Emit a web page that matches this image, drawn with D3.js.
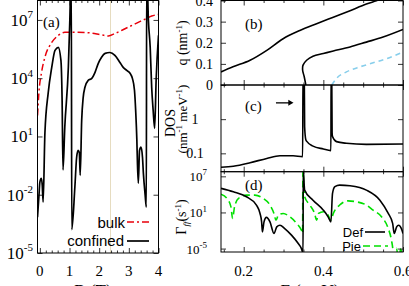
<!DOCTYPE html>
<html>
<head>
<meta charset="utf-8">
<script src="https://cdn.jsdelivr.net/npm/d3@7"></script>
<style>
body { margin: 0; background: #fff; }
svg { display: block; }
</style>
</head>
<body>
<div id="chart"></div>
<script>
// (a) rate vs B
const bulkB = [-0.078, -0.034, 0.057, 0.17, 0.40, 0.62, 0.84, 1.18, 1.63, 2.08, 2.31, 2.53, 2.87, 3.21, 3.55, 3.77, 4.0];
const bulkRate = [1.2e2, 1.7e3, 2.0e4, 1.2e5, 6.9e5, 1.6e6, 2.3e6, 2.3e6, 2.2e6, 1.7e6, 1.5e6, 2.0e6, 3.5e6, 6.3e6, 1.1e7, 1.6e7, 1.9e7];

const confB = [-0.08, -0.03, 0.0, 0.05, 0.08, 0.11, 0.17, 0.28, 0.40, 0.51, 0.62, 0.71, 0.75, 0.78, 0.84, 0.96, 1.01, 1.045, 1.06, 1.075,
  1.18, 1.24, 1.29, 1.33, 1.36, 1.41, 1.46, 1.52, 1.63, 1.75, 1.86, 1.97, 2.08, 2.20, 2.36, 2.53, 2.70, 2.81, 2.93, 3.04,
  3.12, 3.19, 3.23, 3.27, 3.29, 3.32, 3.36, 3.41, 3.46, 3.49, 3.55, 3.59, 3.60, 3.615, 3.66, 3.72, 3.77, 3.82, 3.87, 3.92, 4.0];
const confRate = [7e-4, 9.5e-3, 4.5e-2, 7e-2, 3.1e-2, 4.2e-3, 1.5e1, 1.7e3, 3.6e4, 2.7e5, 3.9e5, 8.3e4, 7.2e2, 1.9e-1, 3.0e1, 3.6e4, 9.3e6, 1e9, 1e9, 1.6e-4,
  2.5e-2, 8.5e-1, 1.9, 1.5, 1.0e-1, 6.8e1, 1.0e3, 3.4e3, 7.8e3, 9.8e3, 2.0e4, 5.8e4, 1.2e5, 1.9e5, 2.1e5, 1.5e5, 6.5e4, 3.6e4, 2.5e4, 1.8e4,
  9.8e3, 2.4e3, 2.2e2, 6.5, 4.2e-1, 4.0e-2, 1.9, 2.8, 8.5e-1, 1.3e-1, 9.5e-3, 2.3e-3, 1e9, 1e9, 9.3e6, 3.9e5, 3.4e3, 2.2e2, 2.6e1, 7.8e3, 1.6e6];
const markedB = 2.37;

// (b) q vs E
const qE1 = [0.143, 0.173, 0.216, 0.258, 0.299, 0.341, 0.383, 0.425, 0.467, 0.508, 0.533, 0.6];
const q1 = [0.062, 0.086, 0.117, 0.164, 0.219, 0.258, 0.290, 0.321, 0.352, 0.383, 0.399, 0.446];
const qE2 = [0.356, 0.352, 0.348, 0.349, 0.358, 0.374, 0.400, 0.425, 0.467, 0.508, 0.550, 0.600];
const q2 = [0, 0.039, 0.070, 0.094, 0.117, 0.136, 0.149, 0.161, 0.180, 0.203, 0.227, 0.263];
const qE3 = [0.421, 0.433, 0.458, 0.492, 0.525, 0.559, 0.600];
const q3 = [0, 0.031, 0.062, 0.086, 0.105, 0.125, 0.156];

// (c) DOS vs E
const dosE = [0.143, 0.174, 0.216, 0.258, 0.291, 0.324, 0.348, 0.349, 0.352, 0.353, 0.356, 0.359, 0.374, 0.400, 0.419, 0.4195, 0.421, 0.422, 0.423, 0.433, 0.458, 0.508, 0.600];
const dos = [0.039, 0.042, 0.053, 0.071, 0.085, 0.085, 0.080, 30, 30, 0.60, 0.25, 0.22, 0.163, 0.134, 0.12, 30, 30, 0.4, 0.31, 0.22, 0.197, 0.183, 0.187];

// (d) rates vs E
const defE = [0.143, 0.174, 0.207, 0.232, 0.241, 0.245, 0.247, 0.251, 0.257, 0.266, 0.276, 0.283, 0.291, 0.303, 0.320, 0.337, 0.345, 0.349, 0.3495,
  0.353, 0.374, 0.400, 0.412, 0.419, 0.423, 0.429, 0.441, 0.467, 0.508, 0.542, 0.563, 0.574, 0.578, 0.584, 0.589, 0.596, 0.600];
const defRate = [1e5, 2.7e4, 4e3, 1.7e2, 6.8, 2.7e-1, 5.9e-3, 2.7e-1, 1.5, 2.7e-1, 3.2e-3, 4e-2, 7.6e-2, 2.1e-2, 1.7e-3, 6.8e-5, 1e-5, 1.9e-6, 1e8,
  5.2e4, 1.1e3, 2.4e1, 1.9, 2.7e-1, 1.5e4, 1.9e5, 3.5e5, 2.7e5, 5.2e4, 1.1e3, 6.8, 1.5e-1, 3.2e-3, 4e-2, 7.6e-2, 2.1e-2, 3.2e-3];
const pieE = [0.143, 0.158, 0.168, 0.172, 0.177, 0.187, 0.207, 0.228, 0.249, 0.266, 0.276, 0.281, 0.287, 0.299, 0.316, 0.333, 0.345, 0.348, 0.3485,
  0.353, 0.366, 0.378, 0.383, 0.388, 0.400, 0.412, 0.419, 0.425, 0.441, 0.462, 0.483, 0.508, 0.525, 0.546, 0.563, 0.571, 0.575, 0.577, 0.584, 0.589, 0.594, 0.600];
const pieRate = [1.1e4, 2.1e3, 8.5e1, 1, 8.5e1, 2.1e3, 7.6e3, 7.6e3, 2.1e3, 1.7e2, 6.8, 5.2e-1, 3.5, 6.8, 1.9, 1.5e-1, 1.1e-2, 3.5e-3, 1e8,
  4e3, 1.7e2, 6.8, 5.2e-1, 6.8, 1.3e1, 3.5, 5.2e-1, 6.8, 1.7e2, 8.5e2, 5.9e2, 1.7e2, 2.4e1, 1.9, 2.1e-2, 2.4e-4, 2.7e-6, 1e-8, 1.1e-5, 1e-8, 8e-6, 1e-8];

const width = 409, height = 286;
const serif = '"Liberation Serif", "DejaVu Serif", serif';
const sans = '"Liberation Sans", Arial, sans-serif';

const svg = d3.select('#chart').append('svg')
  .attr('width', width).attr('height', height)
  .style('font-family', serif);
const defs = svg.append('defs');

const xB = d3.scaleLinear().domain([-0.08, 4.0]).range([37.5, 158.5]);
const yA = d3.scaleLog().domain([1e-5, 1e8]).range([253, 0.5]);
const xE = d3.scaleLinear().domain([0.143, 0.6]).range([221, 403]);
const yQ = d3.scaleLinear().domain([0, 0.4]).range([85, 0.5]);
const yDos = d3.scaleLog().domain([0.029, 10]).range([171.7, 85]);
const yG = d3.scaleLog().domain([Math.pow(10, -5.57), Math.pow(10, 7.77)]).range([252, 171.7]);

function panel(id, x, y) {
  const [x0, x1] = x.range(), [y1, y0] = y.range();
  defs.append('clipPath').attr('id', id).append('rect')
    .attr('x', x0).attr('y', y0).attr('width', x1 - x0).attr('height', y1 - y0);
  return svg.append('g').attr('clip-path', `url(#${id})`);
}

function curve(g, xs, ys, x, y, color, w, dash, c) {
  g.append('path').datum(d3.zip(xs, ys))
    .attr('d', d3.line().x(d => x(d[0])).y(d => y(d[1])).curve(c || d3.curveMonotoneX))
    .attr('fill', 'none').attr('stroke', color).attr('stroke-width', w)
    .attr('stroke-dasharray', dash || null).attr('stroke-linejoin', 'round');
}

function marks(axis, values, size, tx, ty) {
  const g = svg.append('g').attr('transform', `translate(${tx},${ty})`)
    .call(axis.tickValues(values).tickSize(size).tickSizeOuter(0).tickFormat(''));
  g.select('.domain').remove();
  g.selectAll('line').attr('stroke', '#000').attr('stroke-width', 0.8);
}

function box(x, y) {
  const [x0, x1] = x.range(), [y1, y0] = y.range();
  svg.append('rect').attr('x', x0).attr('y', y0).attr('width', x1 - x0).attr('height', y1 - y0)
    .attr('fill', 'none').attr('stroke', '#000').attr('stroke-width', 1);
}

function frameTicks(x, y, xMaj, xMin, yMaj) {
  const [x0, x1] = x.range(), [y1, y0] = y.range();
  marks(d3.axisBottom(x), xMaj, -5, 0, y1);
  marks(d3.axisBottom(x), xMin, -2.5, 0, y1);
  marks(d3.axisTop(x), xMaj, -5, 0, y0);
  marks(d3.axisTop(x), xMin, -2.5, 0, y0);
  marks(d3.axisLeft(y), yMaj, -5, x0, 0);
  marks(d3.axisRight(y), yMaj, -5, x1, 0);
}

function powLabel(x, yy, exp, size, supSize, anchor) {
  const t = svg.append('text').attr('x', x).attr('y', yy)
    .attr('text-anchor', anchor || 'end').attr('font-size', size);
  t.append('tspan').text('10');
  t.append('tspan').attr('dy', -size * 0.45).attr('font-size', supSize).text(exp);
}

// ---------- (a) ----------
const ga = panel('clipA', xB, yA);
const mx = Math.round(xB(markedB)) + 0.5;
ga.append('line')
  .attr('x1', mx).attr('x2', mx)
  .attr('y1', yA.range()[0]).attr('y2', yA.range()[1])
  .attr('stroke', '#e6dcc0').attr('stroke-width', 1);
curve(ga, bulkB, bulkRate, xB, yA, '#e8000b', 1.5, '7,3,2,3');
curve(ga, confB, confRate, xB, yA, '#000', 1.7);

const bMinor = d3.range(-0.0, 4.01, 0.2).map(v => +v.toFixed(2)).filter(v => v % 1 !== 0);
frameTicks(xB, yA, [0, 1, 2, 3, 4], bMinor, [1e-5, 1e-2, 1e1, 1e4, 1e7]);
box(xB, yA);

[[1e-5, '-5'], [1e-2, '-2'], [1e1, '1'], [1e4, '4'], [1e7, '7']].forEach(([v, e]) =>
  powLabel(33, yA(v) + 6, e, 17, 11));
[0, 1, 2, 3, 4].forEach(v => svg.append('text').attr('x', xB(v)).attr('y', 276)
  .attr('text-anchor', 'middle').attr('font-size', 15).text(v));
svg.append('text').attr('x', 93).attr('y', 296).attr('text-anchor', 'middle')
  .attr('font-size', 17).text('B (T)');
svg.append('text').attr('x', 43).attr('y', 27).attr('font-size', 15).text('(a)');

// legend (a)
svg.append('text').attr('x', 125).attr('y', 228).attr('text-anchor', 'end')
  .attr('font-family', sans).attr('font-size', 15).text('bulk');
svg.append('line').attr('x1', 127).attr('x2', 151).attr('y1', 222).attr('y2', 222)
  .attr('stroke', '#e8000b').attr('stroke-width', 1.5).attr('stroke-dasharray', '7,3,2,3');
svg.append('text').attr('x', 124).attr('y', 246).attr('text-anchor', 'end')
  .attr('font-family', sans).attr('font-size', 15).text('confined');
svg.append('line').attr('x1', 127).attr('x2', 149).attr('y1', 241).attr('y2', 241)
  .attr('stroke', '#000').attr('stroke-width', 1.7);

// ---------- right panels ----------
const eMaj = [0.2, 0.4, 0.6];
const eMin = d3.range(0.15, 0.601, 0.05).map(v => +v.toFixed(2)).filter(v => !eMaj.includes(v));

// (b)
const gb = panel('clipB', xE, yQ);
curve(gb, qE1, q1, xE, yQ, '#000', 1.6);
curve(gb, qE2, q2, xE, yQ, '#000', 1.6, null, d3.curveCatmullRom.alpha(0.5));
curve(gb, qE3, q3, xE, yQ, '#87ceeb', 1.6, '5,4');
frameTicks(xE, yQ, eMaj, eMin, [0, 0.1, 0.2, 0.3, 0.4]);
box(xE, yQ);
[[0, '0'], [0.1, '0.1'], [0.2, '0.2'], [0.3, '0.3'], [0.4, '0.4']].forEach(([v, s]) =>
  svg.append('text').attr('x', 213).attr('y', yQ(v) + 5).attr('text-anchor', 'end')
    .attr('font-size', 14).text(s));
svg.append('text').attr('x', 245).attr('y', 29).attr('font-size', 15).text('(b)');
const tq = svg.append('text').attr('transform', 'translate(187,43) rotate(-90)')
  .attr('text-anchor', 'middle').attr('font-size', 14);
tq.append('tspan').text('q (nm');
tq.append('tspan').attr('dy', -5).attr('font-size', 9).text('-1');
tq.append('tspan').attr('dy', 5).text(')');

// (c)
const gc = panel('clipC', xE, yDos);
curve(gc, dosE, dos, xE, yDos, '#000', 1.6);
frameTicks(xE, yDos, eMaj, eMin, [0.1, 1]);
box(xE, yDos);
[[0.1, '0.1'], [1, '1']].forEach(([v, s]) =>
  svg.append('text').attr('x', 195).attr('y', yDos(v) + 5).attr('text-anchor', 'middle')
    .attr('font-size', 14).text(s));
svg.append('text').attr('x', 245).attr('y', 111).attr('font-size', 15).text('(c)');
svg.append('text').attr('transform', 'translate(175,123) rotate(-90)')
  .attr('text-anchor', 'middle').attr('font-size', 14).text('DOS');
const td = svg.append('text').attr('transform', 'translate(187,119) rotate(-90)')
  .attr('text-anchor', 'middle').attr('font-size', 13);
td.append('tspan').text('(nm');
td.append('tspan').attr('dy', -5).attr('font-size', 9).text('-1');
td.append('tspan').attr('dy', 5).text(' meV');
td.append('tspan').attr('dy', -5).attr('font-size', 9).text('-1');
td.append('tspan').attr('dy', 5).text(')');
// arrow
const ay = yDos(3);
svg.append('line').attr('x1', xE(0.281)).attr('x2', xE(0.318)).attr('y1', ay).attr('y2', ay)
  .attr('stroke', '#000').attr('stroke-width', 1.3);
svg.append('path')
  .attr('d', `M${xE(0.325)},${ay}L${xE(0.312)},${ay - 3}L${xE(0.312)},${ay + 3}Z`)
  .attr('fill', '#000');

// (d)
const gd = panel('clipD', xE, yG);
curve(gd, pieE, pieRate, xE, yG, '#00e000', 1.6, '7,4');
curve(gd, defE, defRate, xE, yG, '#000', 1.6);
frameTicks(xE, yG, eMaj, eMin, [1e-5, 1e1, 1e7]);
box(xE, yG);
[[1e-5, '-5'], [1e1, '1'], [1e7, '7']].forEach(([v, e]) =>
  powLabel(207, yG(v) + 5, e, 13, 9));
eMaj.forEach(v => svg.append('text').attr('x', xE(v)).attr('y', 276)
  .attr('text-anchor', 'middle').attr('font-size', 15).text(v.toFixed(1)));
svg.append('text').attr('x', 310).attr('y', 296).attr('text-anchor', 'middle')
  .attr('font-size', 17).text('E (meV)');
svg.append('text').attr('x', 245).attr('y', 190).attr('font-size', 15).text('(d)');
const tg = svg.append('text').attr('transform', 'translate(186,217) rotate(-90)')
  .attr('text-anchor', 'middle').attr('font-size', 14);
tg.append('tspan').text('\u0393');
tg.append('tspan').attr('dy', 3).attr('font-size', 9).attr('font-style', 'italic').text('ff');
tg.append('tspan').attr('dy', -3).text('(s');
tg.append('tspan').attr('dy', -5).attr('font-size', 9).text('-1');
tg.append('tspan').attr('dy', 5).text(')');

// legend (d)
svg.append('text').attr('x', 363).attr('y', 237).attr('text-anchor', 'end')
  .attr('font-family', sans).attr('font-size', 13).text('Def');
svg.append('line').attr('x1', 365).attr('x2', 385).attr('y1', 232).attr('y2', 232)
  .attr('stroke', '#000').attr('stroke-width', 1.6);
svg.append('text').attr('x', 361).attr('y', 251).attr('text-anchor', 'end')
  .attr('font-family', sans).attr('font-size', 13).text('Pie');
svg.append('line').attr('x1', 363).attr('x2', 388).attr('y1', 246).attr('y2', 246)
  .attr('stroke', '#00e000').attr('stroke-width', 1.6).attr('stroke-dasharray', '7,4');
</script>
</body>
</html>
